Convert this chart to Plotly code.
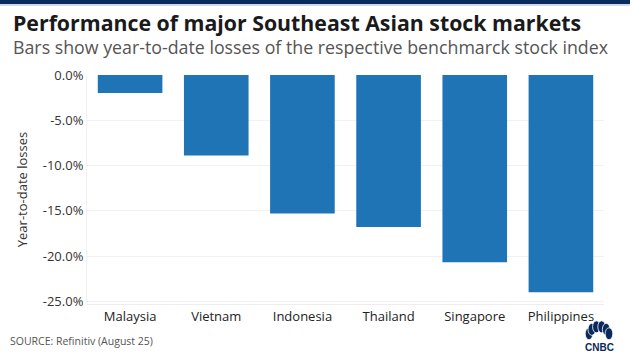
import plotly.graph_objects as go
import math

countries = ["Malaysia", "Vietnam", "Indonesia", "Thailand", "Singapore", "Philippines"]
ytd_losses = [-2.0, -8.9, -15.3, -16.8, -20.7, -24.0]
tick_vals = [0, -5, -10, -15, -20, -25]
tick_text = ["0.0%", "-5.0%", "-10.0%", "-15.0%", "-20.0%", "-25.0%"]

W, H = 630, 354
fig = go.Figure(go.Bar(x=countries, y=ytd_losses, marker=dict(color="#1f74b5", line=dict(width=0)),
                       width=0.75, hoverinfo="skip"))

fig.update_layout(
    width=W, height=H, margin=dict(l=87, r=26, t=75, b=50),
    paper_bgcolor="white", plot_bgcolor="white", showlegend=False,
    font=dict(family="Open Sans", color="#333333"),
)
fig.update_xaxes(showgrid=False, showline=True, linecolor="#eeeeee", linewidth=1,
                 tickfont=dict(size=13, color="#222222"), ticks="", range=[-0.5, 5.5])
fig.update_yaxes(range=[-25.3, 0], tickvals=tick_vals, ticktext=tick_text,
                 tickfont=dict(size=13, color="#333333"), showgrid=True, gridcolor="#f1f1f1",
                 zeroline=False, showline=True, linecolor="#f1f1f1", ticks="",
                 title=dict(text="Year-to-date losses", font=dict(size=13, color="#333333"), standoff=12))

def px(x):
    return (x - 87) / (W - 113)
def py(y):
    return 1 - (y - 75) / (H - 125)

# top navy stripe
fig.add_shape(type="rect", xref="paper", yref="paper", x0=px(0), x1=px(W),
              y0=py(4), y1=py(0), fillcolor="#0b2a5c", line_width=0, layer="above")
fig.add_shape(type="line", xref="paper", yref="paper", x0=px(0), x1=px(W),
              y0=py(5), y1=py(5), line=dict(color="#9fb4d6", width=1))

fig.add_annotation(text="<b>Performance of major Southeast Asian stock markets</b>", xref="paper", yref="paper",
                   x=px(11), y=py(22), xanchor="left", yanchor="middle",
                   showarrow=False, font=dict(size=21.3, color="#1a1a1a"))
fig.add_annotation(text="Bars show year-to-date losses of the respective benchmarck stock index", xref="paper", yref="paper",
                   x=px(11), y=py(47), xanchor="left", yanchor="middle",
                   showarrow=False, font=dict(size=17.8, color="#555555"))
fig.add_annotation(text="SOURCE: Refinitiv (August 25)", xref="paper", yref="paper",
                   x=px(8), y=py(341), xanchor="left", yanchor="middle",
                   showarrow=False, font=dict(size=10.5, color="#555555"))

# CNBC logo approximation
cx, cy = 599, 337
for i in range(6):
    ang = math.radians(162 - i * 28.8)
    ex, ey = cx + 10.5 * math.cos(ang), cy - 10.5 * math.sin(ang)
    fig.add_shape(type="circle", xref="paper", yref="paper",
                  x0=px(ex - 3.8), x1=px(ex + 3.8), y0=py(ey + 6), y1=py(ey - 6),
                  fillcolor="#0b2a5c", line=dict(color="white", width=0.8))
fig.add_annotation(text="<b>CNBC</b>", xref="paper", yref="paper", x=px(599), y=py(347),
                   xanchor="center", yanchor="middle", showarrow=False,
                   font=dict(size=10, color="#0b2a5c", family="Liberation Sans"))

fig.write_html("out.html")
